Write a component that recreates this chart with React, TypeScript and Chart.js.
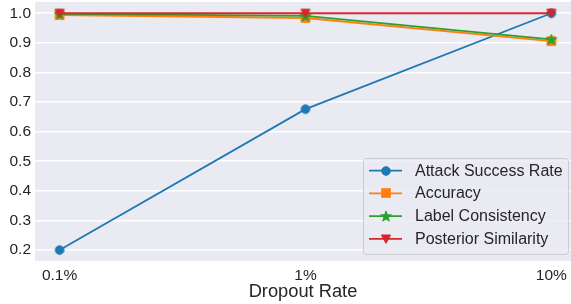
import React, { useEffect, useRef } from 'react';
import { Chart, registerables } from 'chart.js';

Chart.register(...registerables);

const categories = ['0.1%', '1%', '10%'];
const seriesNames = ['Attack Success Rate', 'Accuracy', 'Label Consistency', 'Posterior Similarity'];
const attackSuccessRate = [0.2, 0.676, 1.0];
const accuracy = [0.994, 0.984, 0.906];
const labelConsistency = [0.998, 0.991, 0.912];
const posteriorSimilarity = [1.0, 1.0, 1.0];
const yTicks = [0.2, 0.3, 0.4, 0.5, 0.6, 0.7, 0.8, 0.9, 1.0];
const xTitle = 'Dropout Rate';

const colors = ['#1f77b4', '#ff7f0e', '#2ca02c', '#d62728'];
const FONT = '"Liberation Sans", Arial, sans-serif';

function makeMarker(kind: string, color: string): HTMLCanvasElement {
  const s = 14;
  const c = document.createElement('canvas');
  c.width = s;
  c.height = s;
  const ctx = c.getContext('2d')!;
  const cx = s / 2, cy = s / 2;
  ctx.fillStyle = color;
  ctx.strokeStyle = color;
  ctx.lineWidth = 1;
  ctx.beginPath();
  if (kind === 'circle') {
    ctx.arc(cx, cy, 4.3, 0, Math.PI * 2);
  } else if (kind === 'square') {
    ctx.rect(cx - 4.3, cy - 4.3, 8.6, 8.6);
  } else if (kind === 'star') {
    const R = 5.6, r = 2.3;
    for (let i = 0; i < 10; i++) {
      const ang = -Math.PI / 2 + (i * Math.PI) / 5;
      const rad = i % 2 === 0 ? R : r;
      const px = cx + rad * Math.cos(ang);
      const py = cy + 0.6 + rad * Math.sin(ang);
      if (i === 0) ctx.moveTo(px, py);
      else ctx.lineTo(px, py);
    }
    ctx.closePath();
  } else if (kind === 'tri') {
    ctx.moveTo(cx - 4.6, cy - 4.0);
    ctx.lineTo(cx + 4.6, cy - 4.0);
    ctx.lineTo(cx, cy + 4.3);
    ctx.closePath();
  }
  ctx.fill();
  ctx.stroke();
  return c;
}

export default function App() {
  const ref = useRef<HTMLCanvasElement | null>(null);

  useEffect(() => {
    document.body.style.margin = '0';
    document.body.style.overflow = 'hidden';
    const markers = [
      makeMarker('circle', colors[0]),
      makeMarker('square', colors[1]),
      makeMarker('star', colors[2]),
      makeMarker('tri', colors[3]),
    ];
    const seriesData = [attackSuccessRate, accuracy, labelConsistency, posteriorSimilarity];

    const bgPlugin = {
      id: 'bgPlugin',
      beforeDraw(chart: any) {
        const { ctx, chartArea } = chart;
        ctx.save();
        ctx.fillStyle = '#eaeaf2';
        ctx.fillRect(chartArea.left, chartArea.top, chartArea.right - chartArea.left, chartArea.bottom - chartArea.top);
        ctx.restore();
      },
    };

    const legendPlugin = {
      id: 'customLegend',
      afterDraw(chart: any) {
        const { ctx, chartArea } = chart;
        const boxW = 205, boxH = 96;
        const x0 = 363;
        const y0 = chartArea.bottom - 7 - boxH;
        ctx.save();
        ctx.fillStyle = 'rgba(234,234,242,0.8)';
        ctx.strokeStyle = '#cccccc';
        ctx.lineWidth = 1;
        const r = 3;
        ctx.beginPath();
        ctx.moveTo(x0 + r + 0.5, y0 + 0.5);
        ctx.arcTo(x0 + boxW + 0.5, y0 + 0.5, x0 + boxW + 0.5, y0 + boxH + 0.5, r);
        ctx.arcTo(x0 + boxW + 0.5, y0 + boxH + 0.5, x0 + 0.5, y0 + boxH + 0.5, r);
        ctx.arcTo(x0 + 0.5, y0 + boxH + 0.5, x0 + 0.5, y0 + 0.5, r);
        ctx.arcTo(x0 + 0.5, y0 + 0.5, x0 + boxW + 0.5, y0 + 0.5, r);
        ctx.closePath();
        ctx.fill();
        ctx.stroke();
        ctx.font = `16px ${FONT}`;
        ctx.textBaseline = 'middle';
        ctx.textAlign = 'left';
        for (let i = 0; i < seriesNames.length; i++) {
          const cy = y0 + 12.7 + i * 22.7;
          ctx.strokeStyle = colors[i];
          ctx.lineWidth = 1.8;
          ctx.beginPath();
          ctx.moveTo(x0 + 6, cy);
          ctx.lineTo(x0 + 39, cy);
          ctx.stroke();
          const m = markers[i];
          ctx.drawImage(m, Math.round(x0 + 22.5 - m.width / 2), Math.round(cy - m.height / 2));
          ctx.fillStyle = '#262626';
          ctx.fillText(seriesNames[i], x0 + 52, cy + 0.5);
        }
        ctx.restore();
      },
    };

    const chart = new Chart(ref.current!, {
      type: 'line',
      data: {
        datasets: seriesNames.map((name, i) => ({
          label: name,
          data: seriesData[i].map((v, j) => ({ x: j, y: v })),
          borderColor: colors[i],
          backgroundColor: colors[i],
          borderWidth: 1.8,
          pointStyle: markers[i] as any,
          pointRadius: 5,
          order: 3 - i,
          tension: 0,
          fill: false,
          clip: false,
        })),
      },
      options: {
        animation: false,
        responsive: false,
        maintainAspectRatio: false,
        layout: { autoPadding: false, padding: { top: 2, right: 0, left: 0, bottom: 0 } },
        plugins: { legend: { display: false }, tooltip: { enabled: false } },
        scales: {
          x: {
            type: 'linear',
            min: -0.1,
            max: 2.08,
            afterBuildTicks: (scale: any) => {
              scale.ticks = categories.map((_, i) => ({ value: i }));
            },
            afterFit: (scale: any) => {
              scale.height = 43;
              scale.paddingLeft = 0;
              scale.paddingRight = 0;
            },
            grid: { display: false, drawTicks: false },
            border: { display: false },
            ticks: {
              padding: 5,
              color: '#262626',
              font: { family: FONT, size: 15.5 },
              maxRotation: 0,
              autoSkip: false,
              callback: (v: any) => categories[Math.round(Number(v))] ?? '',
            },
            title: {
              display: true,
              text: xTitle,
              color: '#262626',
              font: { family: FONT, size: 18.3 },
              padding: { top: 0, bottom: 1 },
            },
          },
          y: {
            type: 'linear',
            min: 0.163,
            max: 1.038,
            afterBuildTicks: (scale: any) => {
              scale.ticks = yTicks.map((v) => ({ value: v }));
            },
            afterFit: (scale: any) => {
              scale.width = 35;
              scale.paddingTop = 0;
              scale.paddingBottom = 0;
            },
            grid: { color: '#ffffff', lineWidth: 1.5, drawTicks: false },
            border: { display: false },
            ticks: {
              padding: 4,
              color: '#262626',
              font: { family: FONT, size: 15.5 },
              callback: (v: any) => Number(v).toFixed(1),
            },
          },
        },
      },
      plugins: [bgPlugin, legendPlugin],
    });
    return () => chart.destroy();
  }, []);

  return (
    <div style={{ position: 'absolute', left: 0, top: 0, width: 571, height: 304 }}>
      <canvas ref={ref} width={571} height={304} style={{ width: 571, height: 304 }} />
    </div>
  );
}
